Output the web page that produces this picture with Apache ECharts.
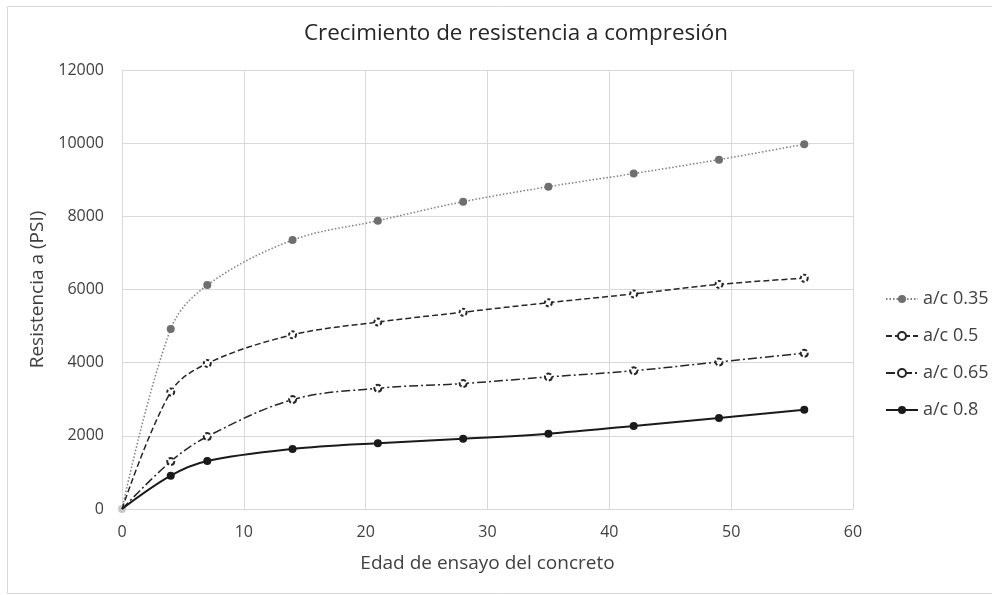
<!DOCTYPE html>
<html><head><meta charset="utf-8">
<script src="https://cdn.jsdelivr.net/npm/echarts@6/dist/echarts.min.js"></script>
<style>html,body{margin:0;padding:0;background:#fff}#c{width:992px;height:595px}</style>
</head><body><div id="c"></div>
<script>
const ages = [0, 4, 7, 14, 21, 28, 35, 42, 49, 56];
const ac035 = [0, 4920, 6120, 7350, 7880, 8400, 8810, 9170, 9550, 9970];
const ac050 = [0, 3200, 3980, 4760, 5110, 5380, 5640, 5880, 6140, 6310];
const ac065 = [0, 1300, 1980, 2990, 3300, 3430, 3610, 3780, 4020, 4260];
const ac080 = [0, 910, 1310, 1640, 1800, 1920, 2060, 2270, 2490, 2710];
const names = ['a/c 0.35', 'a/c 0.5', 'a/c 0.65', 'a/c 0.8'];
const xTicks = [0, 10, 20, 30, 40, 50, 60];
const yTicks = [0, 2000, 4000, 6000, 8000, 10000, 12000];

const font = 'Open Sans, Noto Sans, sans-serif';
const pair = (arr, originStyle) => ages.map((a, i) => {
  if (a === 0 && originStyle) return { value: [a, arr[i]], ...originStyle };
  return [a, arr[i]];
});
const hideOrigin = { symbol: 'none' };

const chart = echarts.init(document.getElementById('c'));
chart.setOption({
  animation: false,
  title: { text: 'Crecimiento de resistencia a compresión', left: 299, top: 18,
    textStyle: { fontFamily: font, fontSize: 22.4, fontWeight: 'normal', color: '#262626' } },
  graphic: [{ type: 'rect', z: -1, shape: { x: 7.5, y: 6.5, width: 1000, height: 587 },
    style: { fill: 'none', stroke: '#d9d9d9', lineWidth: 1 } }],
  grid: { left: 122, right: 139, top: 70, bottom: 86 },
  legend: {
    orient: 'vertical', left: 880, top: 285, itemGap: 19, itemWidth: 32, itemHeight: 10,
    textStyle: { fontFamily: font, fontSize: 18, color: '#404040' },
    data: names
  },
  xAxis: {
    type: 'value', min: xTicks[0], max: xTicks[xTicks.length - 1], interval: 10,
    name: 'Edad de ensayo del concreto', nameLocation: 'middle', nameGap: 45,
    nameTextStyle: { fontFamily: font, fontSize: 19, color: '#404040' },
    axisLine: { show: true, lineStyle: { color: '#d9d9d9' } },
    axisTick: { show: false },
    axisLabel: { fontFamily: font, fontSize: 16, color: '#404040', margin: 15 },
    splitLine: { show: true, lineStyle: { color: '#d9d9d9' } }
  },
  yAxis: {
    type: 'value', min: yTicks[0], max: yTicks[yTicks.length - 1], interval: 2000,
    name: 'Resistencia a (PSI)', nameLocation: 'middle', nameGap: 72,
    nameTextStyle: { fontFamily: font, fontSize: 19, color: '#404040' },
    axisLine: { show: false }, axisTick: { show: false },
    axisLabel: { fontFamily: font, fontSize: 16, color: '#404040', margin: 18,
      formatter: v => String(v) },
    splitLine: { show: true, lineStyle: { color: '#d9d9d9' } }
  },
  series: [
    { name: names[0], type: 'line', z: 1, data: pair(ac035, { itemStyle: { color: '#c8c8c8' } }),
      smooth: 0.35, symbol: 'circle', symbolSize: 8,
      lineStyle: { color: '#7f7f7f', width: 1.5, type: [1.5, 2] },
      itemStyle: { color: '#6f6f6f' } },
    { name: names[1], type: 'line', z: 2, data: pair(ac050, hideOrigin), smooth: 0.35, symbol: 'emptyCircle', symbolSize: 7,
      lineStyle: { color: '#262626', width: 1.5, type: [6, 3] },
      itemStyle: { color: '#262626', borderColor: '#262626', borderWidth: 1.2, borderType: [3, 2] } },
    { name: names[2], type: 'line', z: 2, data: pair(ac065, hideOrigin), smooth: 0.35, symbol: 'emptyCircle', symbolSize: 7,
      lineStyle: { color: '#262626', width: 1.5, type: [9, 3, 2, 3] },
      itemStyle: { color: '#262626', borderColor: '#262626', borderWidth: 1.2, borderType: [5, 2] } },
    { name: names[3], type: 'line', z: 2, data: pair(ac080, hideOrigin), smooth: 0.35, symbol: 'circle', symbolSize: 8,
      lineStyle: { color: '#1a1a1a', width: 2 },
      itemStyle: { color: '#1a1a1a' } }
  ]
});
</script></body></html>
